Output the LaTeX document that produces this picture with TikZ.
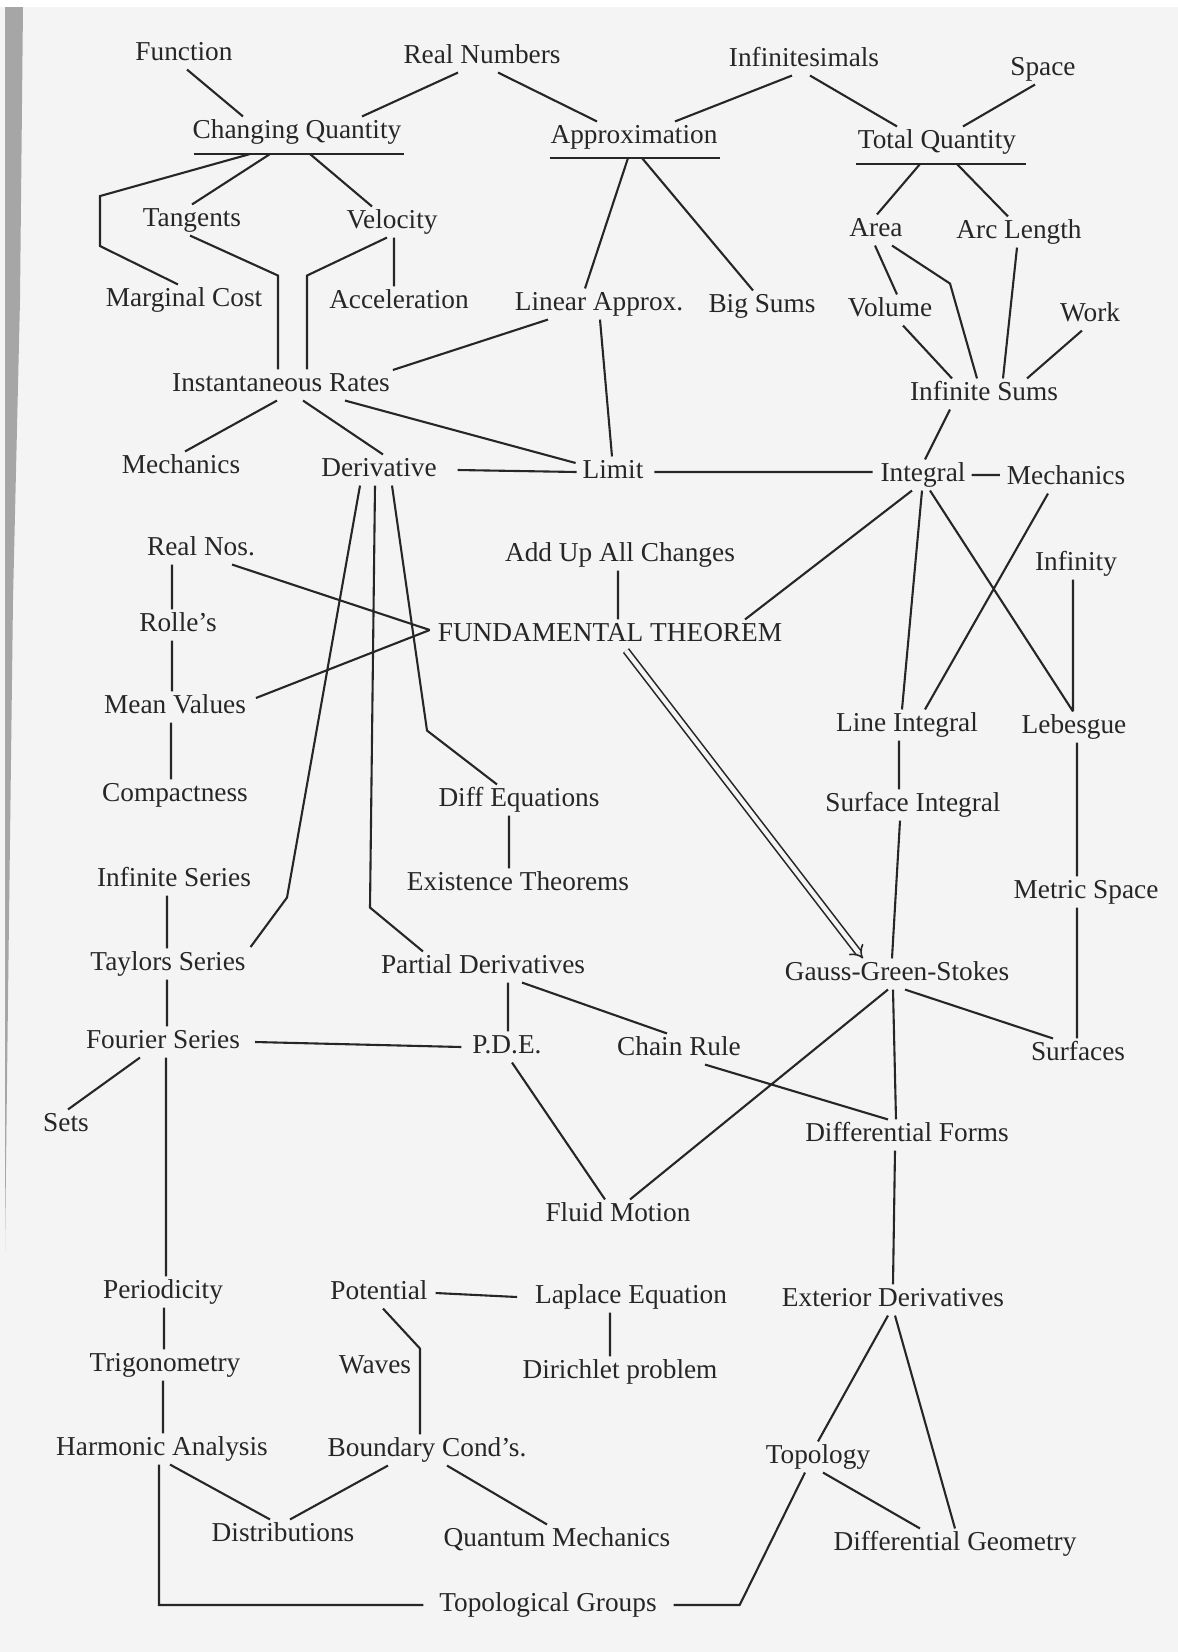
\documentclass[tikz,border=0pt]{standalone}
\usepackage{fontspec}
\setmainfont{Liberation Serif}
\usepackage{tikz}
\usetikzlibrary{arrows.meta}

\definecolor{ink}{HTML}{262626}
\definecolor{papier}{HTML}{F4F4F4}

\begin{document}
\begin{tikzpicture}[
    x=1pt, y=-1pt,
    ink, line width=2.1pt,
    begriff/.style={inner sep=2pt, text height=19pt, text depth=6pt,
        font=\fontsize{27.3}{32}\selectfont},
    >=Implies % Doppelpfeil
    ]
    \useasboundingbox (0,0) rectangle (1178,1652);

    % Hintergrund
    \fill[papier] (0,7) rectangle (1178,1652);
    \fill[gray!70] (5,7) -- (23,7) -- (20,300) -- (13,600) -- (8,1000) -- (5,1250) -- cycle;

    % Begriffe
    \node[begriff] (Func)    at (184,54)   {Function};
    \node[begriff] (RealN)   at (482,57)   {Real Numbers};
    \node[begriff] (Infsm)   at (804,60)   {Infinitesimals};
    \node[begriff] (Space)   at (1043,69)  {Space};
    \node[begriff] (ChQ)     at (297,132)  {Changing Quantity};
    \node[begriff] (Appr)    at (634,137)  {Approximation};
    \node[begriff] (TotQ)    at (937,142)  {Total Quantity};
    \node[begriff] (Tang)    at (192,220)  {Tangents};
    \node[begriff] (Vel)     at (392,222)  {Velocity};
    \node[begriff] (Area)    at (876,230)  {Area};
    \node[begriff] (ArcL)    at (1019,232) {Arc Length};
    \node[begriff] (MCost)   at (184,300)  {Marginal Cost};
    \node[begriff] (Acc)     at (399,302)  {Acceleration};
    \node[begriff] (LinA)    at (599,304)  {Linear Approx.};
    \node[begriff] (BigS)    at (762,306)  {Big Sums};
    \node[begriff] (Vol)     at (890,310)  {Volume};
    \node[begriff] (Work)    at (1090,315) {Work};
    \node[begriff] (InstR)   at (281,385)  {Instantaneous Rates};
    \node[begriff] (InfS)    at (984,394)  {Infinite Sums};
    \node[begriff] (MechL)   at (181,467)  {Mechanics};
    \node[begriff] (Deriv)   at (379,470)  {Derivative};
    \node[begriff] (Lim)     at (613,472)  {Limit};
    \node[begriff] (Intg)    at (923,475)  {Integral};
    \node[begriff] (MechR)   at (1066,478) {Mechanics};
    \node[begriff] (RealNos) at (201,549)  {Real Nos.};
    \node[begriff] (AddUp)   at (620,555)  {Add Up All Changes};
    \node[begriff] (Infty)   at (1076,564) {Infinity};
    \node[begriff] (Rolle)   at (178,625)  {Rolle’s};
    \node[begriff] (FT)      at (610,635)  {FUNDAMENTAL THEOREM};
    \node[begriff] (MeanV)   at (175,707)  {Mean Values};
    \node[begriff] (LineI)   at (907,725)  {Line Integral};
    \node[begriff] (Leb)     at (1074,727) {Lebesgue};
    \node[begriff] (Comp)    at (175,795)  {Compactness};
    \node[begriff] (DiffEq)  at (519,800)  {Diff Equations};
    \node[begriff] (SurfI)   at (913,805)  {Surface Integral};
    \node[begriff] (InfSer)  at (174,880)  {Infinite Series};
    \node[begriff] (Exist)   at (518,884)  {Existence Theorems};
    \node[begriff] (Metric)  at (1086,892) {Metric Space};
    \node[begriff] (Taylor)  at (168,964)  {Taylors Series};
    \node[begriff] (PartD)   at (483,967)  {Partial Derivatives};
    \node[begriff] (GGS)     at (897,974)  {Gauss-Green-Stokes};
    \node[begriff] (Fourier) at (163,1042) {Fourier Series};
    \node[begriff] (PDE)     at (507,1047) {P.D.E.};
    \node[begriff] (Chain)   at (679,1049) {Chain Rule};
    \node[begriff] (Surf)    at (1078,1054){Surfaces};
    \node[begriff] (Sets)    at (66,1125)  {Sets};
    \node[begriff] (DForm)   at (907,1135) {Differential Forms};
    \node[begriff] (Fluid)   at (618,1215) {Fluid Motion};
    \node[begriff] (Period)  at (163,1292) {Periodicity};
    \node[begriff] (Pot)     at (379,1293) {Potential};
    \node[begriff] (Lapl)    at (631,1297) {Laplace Equation};
    \node[begriff] (ExtD)    at (893,1300) {Exterior Derivatives};
    \node[begriff] (Trig)    at (165,1365) {Trigonometry};
    \node[begriff] (Waves)   at (375,1367) {Waves};
    \node[begriff] (Diri)    at (620,1372) {Dirichlet problem};
    \node[begriff] (HarmA)   at (162,1449) {Harmonic Analysis};
    \node[begriff] (Bound)   at (427,1450) {Boundary Cond’s.};
    \node[begriff] (Topo)    at (818,1457) {Topology};
    \node[begriff] (Distr)   at (283,1535) {Distributions};
    \node[begriff] (QuantM)  at (557,1540) {Quantum Mechanics};
    \node[begriff] (DGeom)   at (955,1544) {Differential Geometry};
    \node[begriff] (TopGr)   at (548,1605) {Topological Groups};

    % Unterstreichungen
    \draw   ([xshift=4pt,yshift=-6.5pt]ChQ.south west) -- ([yshift=-6.5pt]ChQ.south east)
            ([xshift=2pt,yshift=-5.5pt]Appr.south west) -- ([yshift=-5.5pt]Appr.south east)
            ([xshift=1pt,yshift=-6.5pt]TotQ.south west) -- ([xshift=7pt,yshift=-6.5pt]TotQ.south east);

    % oberer Teil
    \draw   ([xshift=3pt]Func.south) -- ([xshift=-54pt]ChQ.north)
            ([xshift=-24pt]RealN.south) -- ([xshift=65pt]ChQ.north)
            ([xshift=16pt]RealN.south) -- ([xshift=-37pt]Appr.north)
            ([xshift=-12pt]Infsm.south) -- ([xshift=41pt]Appr.north)
            ([xshift=6pt]Infsm.south) -- ([xshift=-40pt]TotQ.north)
            ([xshift=-8pt]Space.south) -- ([xshift=26pt]TotQ.north);

    \draw   ([xshift=-47pt,yshift=-6.5pt]ChQ.south) -- ++(-150,42) -- ++(0,50)
                -- ([xshift=-6pt]MCost.north)
            ([xshift=-27pt,yshift=-6.5pt]ChQ.south) -- (Tang.north)
            ([xshift=13pt,yshift=-6.5pt]ChQ.south) -- ([xshift=-20pt]Vel.north)
            ([xshift=-2pt]Tang.south) -- ++(88,40) -- ([xshift=-3pt]InstR.north)
            ([xshift=-5pt]Vel.south) -- ++(-80,38) -- ([xshift=26pt]InstR.north)
            ([xshift=2pt]Vel.south) -- ([xshift=-5pt]Acc.north);

    \draw   ([xshift=-6pt,yshift=-5.5pt]Appr.south) -- ([xshift=-14pt]LinA.north)
            ([xshift=8pt,yshift=-5.5pt]Appr.south) -- ([xshift=-9pt]BigS.north)
            ([xshift=-17pt,yshift=-6.5pt]TotQ.south) -- ([xshift=1pt]Area.north)
            ([xshift=20pt,yshift=-6.5pt]TotQ.south) -- ([xshift=-11pt]ArcL.north)
            ([xshift=-1pt]Area.south) -- ([xshift=7pt]Vol.north)
            ([xshift=16pt]Area.south) -- ++(58,38) -- ([xshift=-7pt]InfS.north)
            ([xshift=-2pt]ArcL.south) -- ([xshift=19pt]InfS.north)
            ([xshift=13pt]Vol.south) -- ([xshift=-32pt]InfS.north)
            ([xshift=-8pt]Work.south) -- ([xshift=43pt]InfS.north);

    % mittlerer Teil
    \draw   ([xshift=-51pt]LinA.south) -- ([yshift=15pt]InstR.east)
            ([xshift=1pt]LinA.south) -- ([xshift=-1pt]Lim.north)
            ([xshift=-4pt]InstR.south) -- ([xshift=4pt]MechL.north)
            ([xshift=22pt]InstR.south) -- ([xshift=4pt]Deriv.north)
            ([xshift=64pt]InstR.south) -- ([xshift=-4pt,yshift=9pt]Lim.west)
            ([xshift=18pt]Deriv.east) -- ([xshift=-3pt]Lim.west)
            ([xshift=8pt]Lim.east) -- ([xshift=-5pt]Intg.west |- Lim.east)
            ([xshift=-34pt]InfS.south) -- ([xshift=2pt]Intg.north)
            ([xshift=3pt]Intg.east) -- ([xshift=-4pt]MechR.west |- Intg.east)
            ([xshift=-1pt]Intg.south) -- ([xshift=-5pt]LineI.north)
            ([xshift=7pt]Intg.south) -- ([xshift=-1pt]Leb.north)
            ([xshift=-18pt]MechR.south) -- ([xshift=18pt]LineI.north)
            ([xshift=-3pt]Infty.south) -- ([xshift=-1pt]Leb.north)
            ([xshift=135pt]FT.north) -- ([xshift=-11pt]Intg.south)
            ([xshift=-2pt]AddUp.south) -- ([xshift=8pt]FT.north);

    \draw   ([xshift=31pt]RealNos.south) -- ([xshift=-5pt,yshift=5pt]FT.west)
            ([xshift=7pt,yshift=9pt]MeanV.east) -- ([xshift=-5pt,yshift=5pt]FT.west)
            ([xshift=-29pt]RealNos.south) -- ([xshift=-6pt]Rolle.north)
            ([xshift=-6pt]Rolle.south) -- ([xshift=-3pt]MeanV.north)
            ([xshift=-4pt]MeanV.south) -- ([xshift=-4pt]Comp.north);

    \draw   ([xshift=-19pt]Deriv.south) -- ++(-73,412) -- ([xshift=2pt,yshift=17pt]Taylor.east)
            ([xshift=-4pt]Deriv.south) -- ++(-5,422) -- ([xshift=-60pt]PartD.north)
            ([xshift=13pt]Deriv.south) -- ++(35,245) -- ([xshift=-22pt]DiffEq.north)
            ([xshift=-10pt]DiffEq.south) -- ([xshift=-9pt]Exist.north);

    \draw[double=papier, double distance=4.5pt, line width=1.6pt, ->]
            ([xshift=16pt]FT.south) -- ([xshift=-34pt]GGS.north);

    % rechte Spalte
    \draw   ([xshift=-8pt]LineI.south) -- ([xshift=-14pt]SurfI.north)
            ([xshift=-13pt]SurfI.south) -- ([xshift=-5pt]GGS.north)
            ([xshift=3pt]Leb.south) -- ([xshift=-9pt]Metric.north)
            ([xshift=-9pt]Metric.south) -- ([xshift=-1pt]Surf.north)
            ([xshift=8pt]GGS.south) -- ([xshift=-25pt]Surf.north)
            ([xshift=-4pt]GGS.south) -- ([xshift=-11pt]DForm.north)
            ([xshift=-12pt]DForm.south) -- (ExtD.north)
            ([xshift=-5pt]ExtD.south) -- (Topo.north)
            ([xshift=2pt]ExtD.south) -- (DGeom.north)
            ([xshift=5pt]Topo.south) -- ([xshift=-35pt]DGeom.north)
            ([xshift=-13pt]Topo.south) -- ([xshift=80pt]TopGr.east) -- ([xshift=14pt]TopGr.east);

    % linke Spalte
    \draw   ([xshift=-7pt]InfSer.south) -- ([xshift=-1pt]Taylor.north)
            ([xshift=-1pt]Taylor.south) -- ([xshift=4pt]Fourier.north)
            ([xshift=-23pt]Fourier.south) -- ([xshift=2pt]Sets.north)
            ([xshift=3pt]Fourier.south) -- ([xshift=3pt]Period.north)
            ([xshift=12pt]Fourier.east) -- ([xshift=-8pt]PDE.west)
            ([xshift=1pt]Period.south) -- ([xshift=-1pt]Trig.north)
            ([xshift=-2pt]Trig.south) -- ([xshift=1pt]HarmA.north)
            ([xshift=8pt]HarmA.south) -- ([xshift=-13pt]Distr.north)
            ([xshift=-3pt]HarmA.south) |- ([xshift=-13pt]TopGr.west);

    % unterer Teil
    \draw   ([xshift=25pt]PartD.south) -- ([xshift=1pt]PDE.north)
            ([xshift=39pt]PartD.south) -- ([xshift=-12pt]Chain.north)
            ([xshift=5pt]PDE.south) -- ([xshift=-13pt]Fluid.north)
            ([xshift=12pt]Fluid.north) -- ([xshift=-9pt]GGS.south)
            ([xshift=26pt]Chain.south) -- ([xshift=-19pt]DForm.north)
            ([xshift=5pt]Pot.east) -- ([xshift=-15pt]Lapl.west)
            ([xshift=-21pt]Lapl.south) -- ([xshift=-10pt]Diri.north)
            ([xshift=4pt]Pot.south) -- ++(37,40) -- ([xshift=-7pt]Bound.north)
            ([xshift=-39pt]Bound.south) -- ([xshift=7pt]Distr.north)
            ([xshift=20pt]Bound.south) -- ([xshift=-10pt]QuantM.north);
\end{tikzpicture}
\end{document}
